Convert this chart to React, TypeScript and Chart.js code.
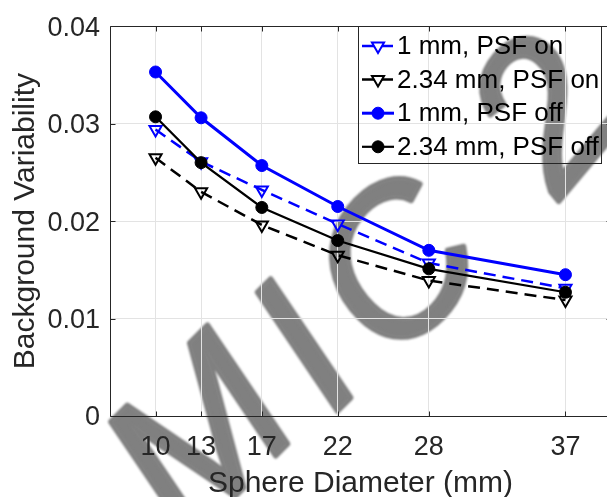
import React, { useEffect, useRef } from 'react';
import { Chart, registerables } from 'chart.js';

Chart.register(...registerables);

// ---- data ----
const sphereDiameters = [10, 13, 17, 22, 28, 37];
const fine1mmPsfOn = [0.0294, 0.0261, 0.0232, 0.0197, 0.0157, 0.0131];
const coarse234PsfOn = [0.0265, 0.0230, 0.0196, 0.0165, 0.0139, 0.0119];
const fine1mmPsfOff = [0.0353, 0.0306, 0.0257, 0.0215, 0.0170, 0.0145];
const coarse234PsfOff = [0.0307, 0.0260, 0.0214, 0.0180, 0.0151, 0.0127];
const xTickValues = [10, 13, 17, 22, 28, 37];
const yTickValues = [0, 0.01, 0.02, 0.03, 0.04];
const seriesLabels = ['1 mm, PSF on', '2.34 mm, PSF on', '1 mm, PSF off', '2.34 mm, PSF off'];
const xTitle = 'Sphere Diameter (mm)';
const yTitle = 'Background Variability';
const watermarkGlyphs = ['M', 'I', 'C', '2'];

const W = 625;
const H = 497;
const AXIS = '#262626';
const FONT = '"Liberation Sans", Arial, Helvetica, sans-serif';
const BLUE = '#0000ff';
const BLACK = '#000000';

const toPts = (ys: number[]) => sphereDiameters.map((x, i) => ({ x, y: ys[i] }));

const watermarkPlugin = {
  id: 'watermark',
  beforeDraw(chart: any) {
    const ctx = chart.ctx as CanvasRenderingContext2D;
    const place = [
      { x: 195, y: 433, rot: -45, size: 205 },
      { x: 300, y: 345, rot: -45, size: 205 },
      { x: 392, y: 262, rot: -45, size: 205 },
      { x: 540, y: 110, rot: -50, size: 205 },
    ];
    ctx.save();
    ctx.fillStyle = '#ffffff';
    ctx.fillRect(0, 0, chart.width, chart.height);
    ctx.fillStyle = '#808080';
    ctx.strokeStyle = '#808080';
    ctx.lineWidth = 5;
    ctx.lineJoin = 'round';
    (ctx as any).filter = 'blur(1.2px)';
    watermarkGlyphs.forEach((ch, i) => {
      const p = place[i];
      ctx.save();
      ctx.translate(p.x, p.y);
      ctx.rotate((p.rot * Math.PI) / 180);
      ctx.font = `italic ${p.size}px ${FONT}`;
      ctx.textAlign = 'center';
      ctx.textBaseline = 'alphabetic';
      ctx.fillText(ch, 0, p.size * 0.358);
      ctx.strokeText(ch, 0, p.size * 0.358);
      ctx.restore();
    });
    ctx.restore();
  },
};

const framePlugin = {
  id: 'frame',
  beforeDatasetsDraw(chart: any) {
    const ctx = chart.ctx as CanvasRenderingContext2D;
    const { left, right, top, bottom } = chart.chartArea;
    const xs = chart.scales.x;
    const ys = chart.scales.y;
    ctx.save();
    ctx.strokeStyle = AXIS;
    ctx.lineWidth = 1;
    ctx.beginPath();
    const l = Math.round(left) + 0.5;
    const r = Math.round(right) + 0.5;
    const t = Math.round(top) + 0.5;
    const b = Math.round(bottom) + 0.5;
    ctx.moveTo(l, t);
    ctx.lineTo(r, t);
    ctx.lineTo(r, b);
    ctx.lineTo(l, b);
    ctx.closePath();
    const tl = 5;
    xTickValues.forEach((v) => {
      const px = Math.round(xs.getPixelForValue(v)) + 0.5;
      ctx.moveTo(px, b);
      ctx.lineTo(px, b - tl);
      ctx.moveTo(px, t);
      ctx.lineTo(px, t + tl);
    });
    yTickValues.forEach((v) => {
      const py = Math.round(ys.getPixelForValue(v)) + 0.5;
      ctx.moveTo(l, py);
      ctx.lineTo(l + tl, py);
      ctx.moveTo(r, py);
      ctx.lineTo(r - tl, py);
    });
    ctx.stroke();
    ctx.restore();
  },
};

function drawMarker(ctx: CanvasRenderingContext2D, style: string, x: number, y: number, r: number) {
  ctx.beginPath();
  if (style === 'triangle') {
    const s = r;
    ctx.moveTo(x - s * Math.sin(Math.PI / 3), y - s * 0.5);
    ctx.lineTo(x + s * Math.sin(Math.PI / 3), y - s * 0.5);
    ctx.lineTo(x, y + s);
    ctx.closePath();
  } else {
    ctx.arc(x, y, r, 0, Math.PI * 2);
  }
  ctx.fill();
  ctx.stroke();
}

const legendPlugin = {
  id: 'customLegend',
  afterDraw(chart: any) {
    const ctx = chart.ctx as CanvasRenderingContext2D;
    const boxL = 358.5;
    const boxT = 26.5;
    const boxW = 243;
    const boxH = 137;
    ctx.save();
    ctx.strokeStyle = AXIS;
    ctx.lineWidth = 1;
    ctx.strokeRect(boxL, boxT, boxW, boxH);
    const rowY0 = 46;
    const rowStep = 33.6;
    chart.data.datasets.forEach((ds: any, i: number) => {
      const y = rowY0 + i * rowStep;
      ctx.save();
      ctx.strokeStyle = ds.borderColor;
      ctx.lineWidth = ds.borderWidth;
      ctx.setLineDash(ds.borderDash || []);
      ctx.beginPath();
      ctx.moveTo(362, y);
      ctx.lineTo(394, y);
      ctx.stroke();
      ctx.setLineDash([]);
      ctx.lineWidth = ds.pointBorderWidth;
      ctx.strokeStyle = ds.pointBorderColor;
      ctx.fillStyle = ds.pointStyle === 'triangle' ? '#ffffff' : ds.pointBackgroundColor;
      drawMarker(ctx, ds.pointStyle, 378, y, ds.pointRadius);
      ctx.restore();
      ctx.fillStyle = '#000000';
      ctx.font = `26px ${FONT}`;
      ctx.textAlign = 'left';
      ctx.textBaseline = 'middle';
      ctx.fillText(seriesLabels[i], 397, y + 1);
    });
    ctx.restore();
  },
};

export default function App() {
  const ref = useRef<HTMLCanvasElement>(null);
  useEffect(() => {
    document.documentElement.style.overflow = 'hidden';
    document.body.style.overflow = 'hidden';
    const canvas = ref.current;
    if (!canvas) return;
    const mk = (label: string, ys: number[], color: string, dashed: boolean, tri: boolean, lw: number, order: number) => ({
      label,
      data: toPts(ys),
      borderColor: color,
      backgroundColor: color,
      borderWidth: lw,
      borderDash: dashed ? [12, 7] : [],
      pointStyle: tri ? 'triangle' : 'circle',
      pointRotation: tri ? 180 : 0,
      pointRadius: tri ? 7 : 6,
      pointBorderWidth: tri ? 2 : 1,
      pointBorderColor: color,
      pointBackgroundColor: tri ? 'rgba(255,255,255,0)' : color,
      tension: 0,
      fill: false,
      order,
    });
    const chart = new Chart(canvas, {
      type: 'line',
      data: {
        datasets: [
          mk(seriesLabels[0], fine1mmPsfOn, BLUE, true, true, 2.5, 4),
          mk(seriesLabels[1], coarse234PsfOn, BLACK, true, true, 2.5, 3),
          mk(seriesLabels[2], fine1mmPsfOff, BLUE, false, false, 3, 2),
          mk(seriesLabels[3], coarse234PsfOff, BLACK, false, false, 2.2, 1),
        ] as any,
      },
      options: {
        responsive: false,
        animation: false,
        devicePixelRatio: 1,
        layout: { padding: { top: 17, right: 14, left: 0, bottom: 0 } },
        plugins: {
          legend: { display: false },
          tooltip: { enabled: false },
        },
        scales: {
          x: {
            type: 'linear',
            min: 7,
            max: 40,
            afterBuildTicks: (s: any) => {
              s.ticks = xTickValues.map((v) => ({ value: v }));
            },
            afterFit: (s: any) => {
              s.height = 81;
            },
            grid: { color: '#e3e3e3', lineWidth: 1, drawTicks: false },
            border: { display: false },
            ticks: {
              autoSkip: false,
              maxRotation: 0,
              padding: 15,
              color: AXIS,
              font: { size: 27, family: FONT },
              callback: (v: any) => String(v),
            },
            title: {
              display: true,
              text: xTitle,
              color: AXIS,
              font: { size: 30, family: FONT, lineHeight: 1 },
              padding: { top: 0, bottom: -2 },
            },
          },
          y: {
            type: 'linear',
            min: 0,
            max: 0.04,
            afterBuildTicks: (s: any) => {
              s.ticks = yTickValues.map((v) => ({ value: v }));
            },
            afterFit: (s: any) => {
              s.width = 110;
            },
            grid: { color: '#e3e3e3', lineWidth: 1, drawTicks: false },
            border: { display: false },
            ticks: {
              padding: 10,
              labelOffset: 2,
              color: AXIS,
              font: { size: 27, family: FONT },
              callback: (v: any) => (v === 0 ? '0' : Number(v).toFixed(2)),
            },
            title: {
              display: true,
              text: yTitle,
              color: AXIS,
              font: { size: 30, family: FONT, lineHeight: 1 },
              padding: { top: 11, bottom: 0 },
            },
          },
        },
      } as any,
      plugins: [watermarkPlugin, framePlugin, legendPlugin],
    });
    return () => chart.destroy();
  }, []);
  return (
    <div style={{ position: 'fixed', left: 0, top: 0, width: W, height: H, background: '#fff' }}>
      <canvas ref={ref} width={W} height={H} style={{ display: 'block', width: W, height: H }} />
    </div>
  );
}
